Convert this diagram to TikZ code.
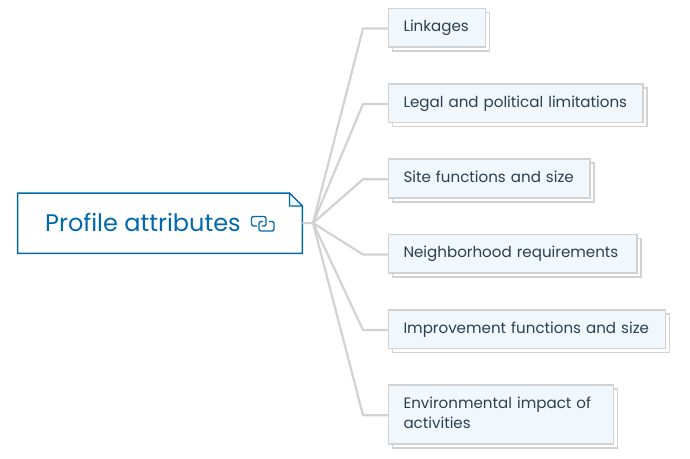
\documentclass[tikz,border=0pt]{standalone}
\usepackage{fontspec}
\setmainfont{Poppins}
\usetikzlibrary{calc}
\definecolor{rootblue}{HTML}{0069AC}
\definecolor{leaffill}{HTML}{F0F7FD}
\definecolor{leafline}{HTML}{D2D2D2}
\definecolor{leaftext}{HTML}{2B3F50}
\tikzset{
    leaf/.style={draw=leafline, line width=1.5pt, fill=leaffill, anchor=north west, inner xsep=15pt,
        inner ysep=0pt, align=left, text=leaftext, font=\fontsize{15.1}{20}\selectfont},
    leafback/.style={draw=leafline, line width=1.5pt, fill=white, anchor=north west},
    branch/.style={draw=leafline, line width=2.2pt, line join=round},
    rootbox/.style={minimum width=284.5pt, minimum height=60pt, anchor=north west, inner sep=0pt}
}
\begin{document}
\begin{tikzpicture}[x=1pt, y=-1pt]
    \useasboundingbox (0,0) rectangle (690,458);

    % central topic
    \node[rootbox] (root) at (17.5,193) {};
    \draw[rootblue, line width=1.5pt, line join=round]
        (root.south west) -- (root.north west) -- ($(root.north east)+(-13,0)$)
        -- ($(root.north east)+(0,13)$) -- (root.south east) -- cycle;
    \draw[rootblue, line width=1.2pt, fill=leaffill, line join=round]
        ($(root.north east)+(-13,0)$) -- ($(root.north east)+(-13,13)$) -- ($(root.north east)+(0,13)$) -- cycle;
    \node[anchor=west, inner sep=0pt, text=rootblue, font=\fontsize{24}{28}\selectfont] (title) at (45,222) {Profile attributes};

    % link icon
    \draw[rootblue, line width=1.3pt, rounded corners=2pt]
        (257,226) -- (251.5,226) -- (251.5,216.5) -- (266,216.5) -- (266,226) -- (261.5,226);
    \draw[rootblue, line width=1.3pt, rounded corners=2pt]
        (269,221.5) -- (274,221.5) -- (274,231) -- (259,231) -- (259,221.5) -- (263,221.5);

    \coordinate (hub) at (313,223);
    \draw[branch] (root.east) -- (hub);

    \foreach \name/\top/\wid/\hgt/\txt in {
        linkages/7.75/97/38.5/{Linkages},
        legal/83.25/254.5/38.5/{Legal and political limitations},
        site/158.25/201.5/39/{Site functions and size},
        neighbor/233.75/248.5/38.5/{Neighborhood requirements},
        improve/309.25/277/38.5/{Improvement functions and size},
        impact/384.25/225/59/{Environmental impact of\\activities}}
    {
        \node[leafback, minimum width=\wid pt, minimum height=\hgt pt] (\name back) at (391.75,\top+4) {};
        \node[leaf, text width=\wid pt-30pt, minimum height=\hgt pt] (\name) at (387.75,\top) {\strut\txt\strut};
        \coordinate (\name bend) at (363,{\top+\hgt/2+1.5});
        \draw[branch] (hub) -- (\name bend) -- (\name.west |- \name bend);
    }
\end{tikzpicture}
\end{document}
